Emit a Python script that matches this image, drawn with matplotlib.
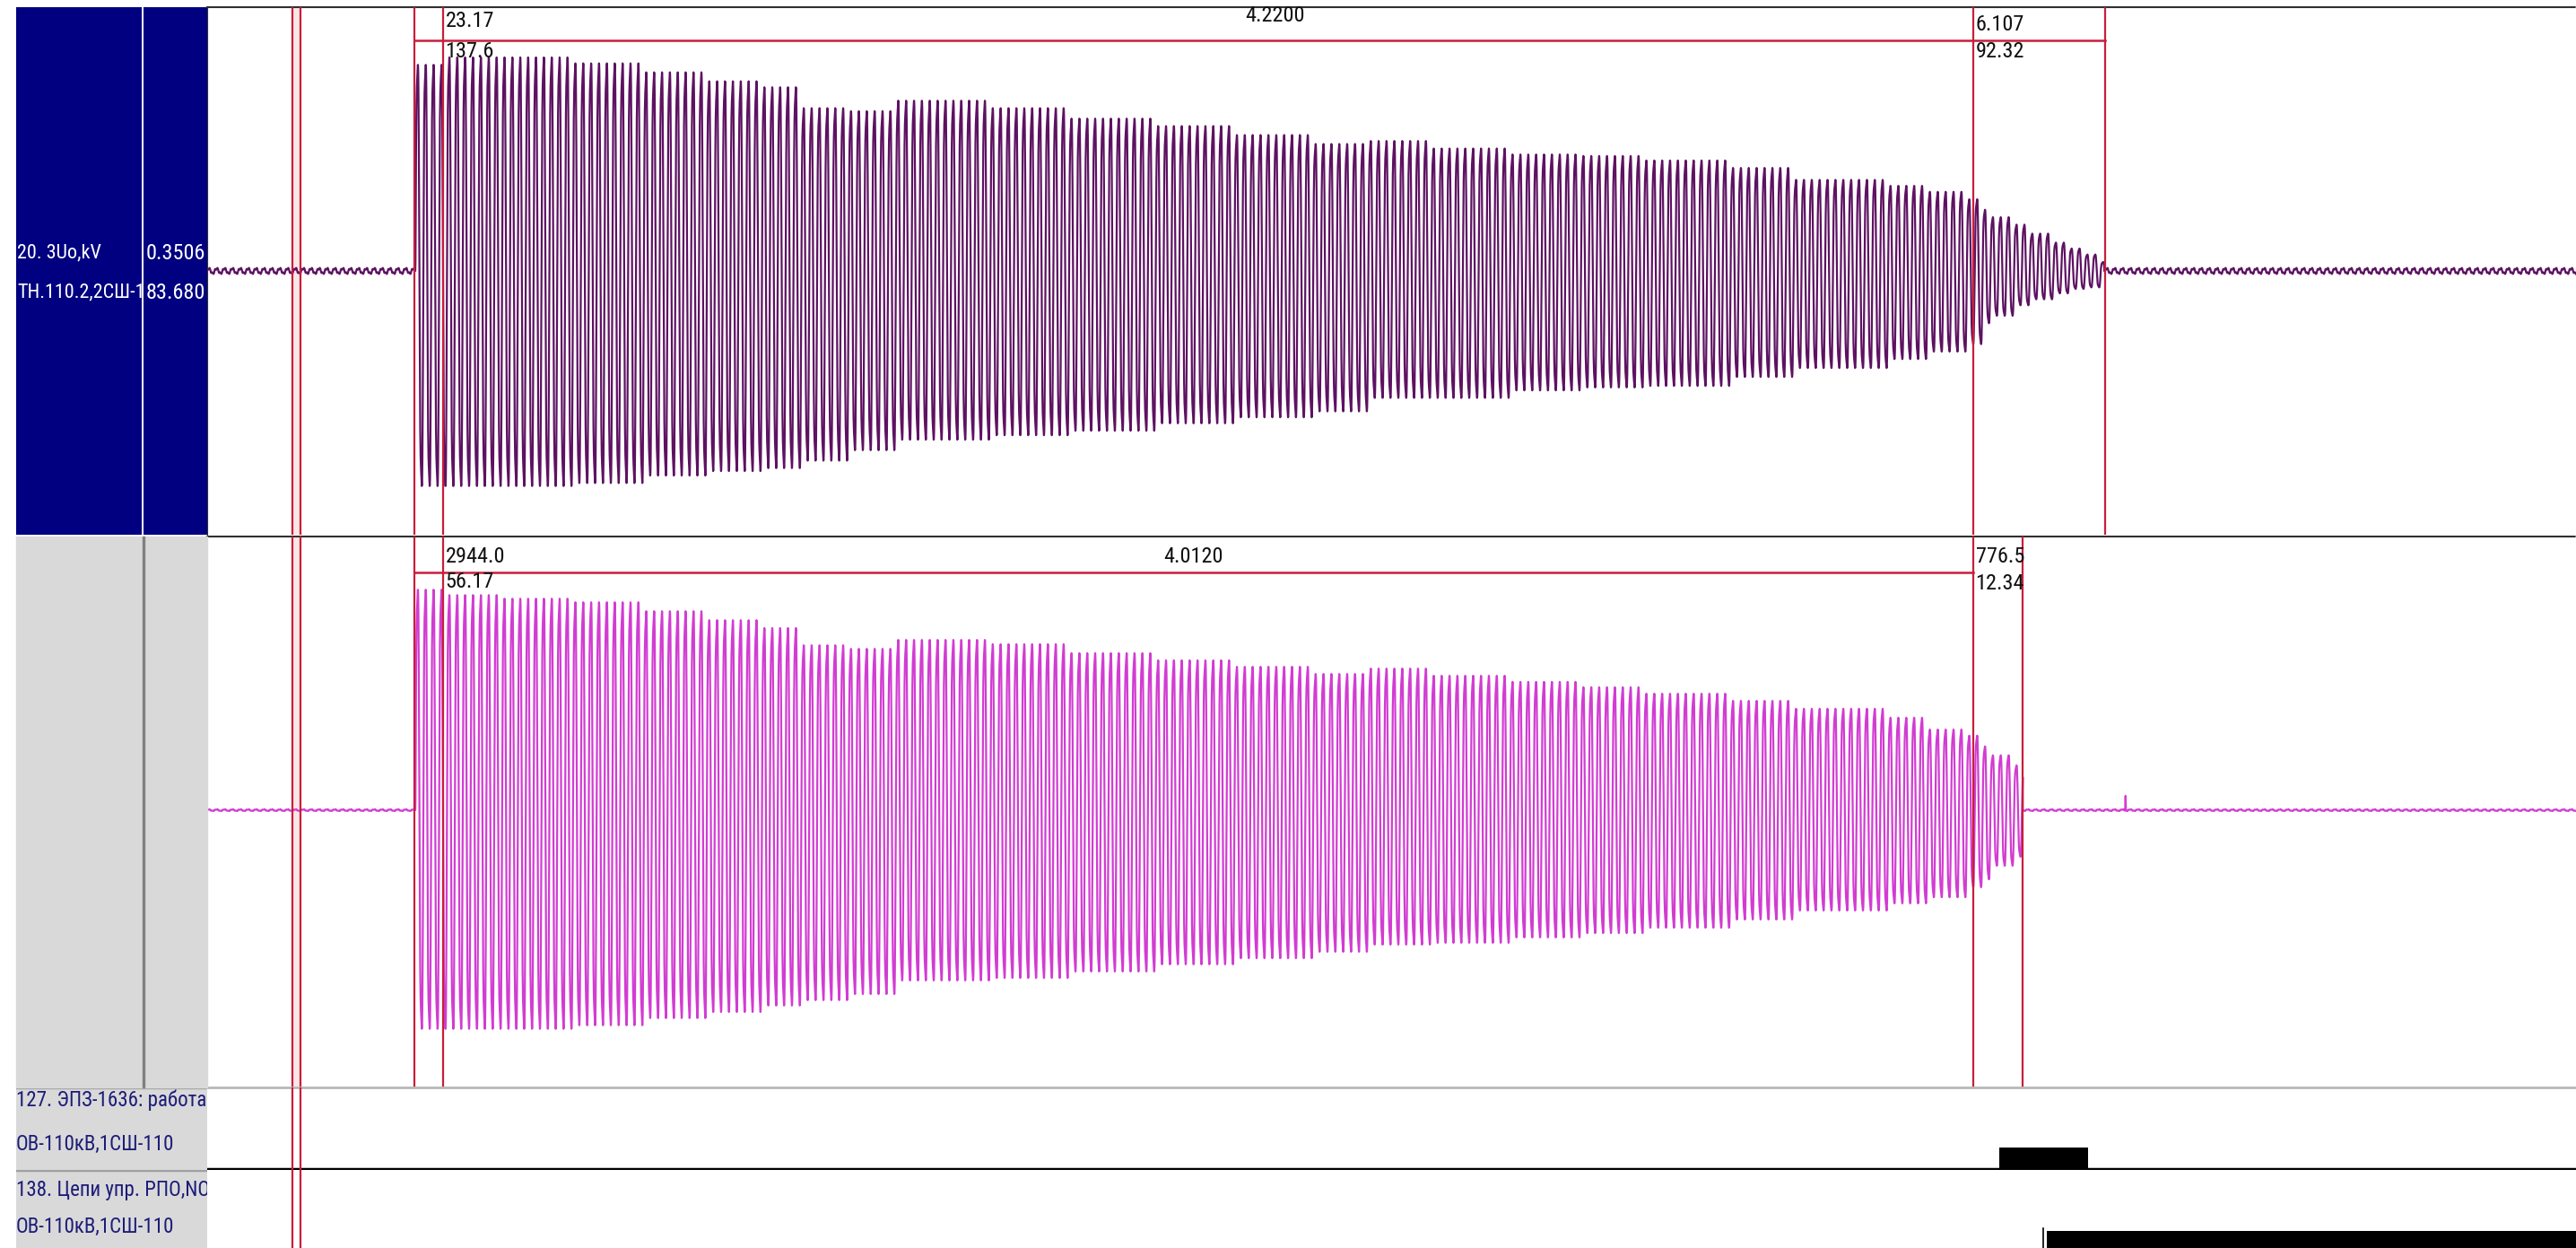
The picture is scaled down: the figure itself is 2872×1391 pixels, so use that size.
import os
import numpy as np
import matplotlib
matplotlib.use("Agg")
import matplotlib.pyplot as plt
from matplotlib import font_manager
from matplotlib.font_manager import FontProperties
from matplotlib.patches import Rectangle

W, H = 2872, 1391
DPI = 100

# time axis of the record, seconds (0 = left measuring cursor)
T_MIN, T_MAX = -0.599, 5.417
F_HZ = 50.0

# cursors, s
CUR_PAIR = [-0.383, -0.362]
CUR_FAULT = -0.073
CUR_LEFT = 0.0
CUR_MID = 3.886
CUR_U_END = 4.220
CUR_I_END = 4.012

# envelope of the fault: segment start times, s
SEG_T = [-0.07, 0.00, 0.15, 0.33, 0.50, 0.65, 0.80, 0.90, 1.02, 1.14,
         1.38, 1.59, 1.80, 2.00, 2.21, 2.34, 2.51, 2.71, 2.88, 3.05,
         3.26, 3.43, 3.66, 3.77, 3.86, 3.90, 3.93, 3.98, 4.02, 4.07,
         4.11, 4.16, 4.19]

# 20. 3Uo, kV - positive / negative peaks per segment
U_TOP = [138, 143, 143, 139, 133, 127, 123, 109, 107, 114,
         109, 102, 97, 91, 85, 87, 82, 78, 77, 74,
         69, 61, 57, 53, 48, 41, 36, 31, 25, 19,
         15, 11, 6]
U_BOT = [-144, -144, -144, -142, -137, -134, -132, -127, -120, -113,
         -110, -107, -102, -98, -94, -85, -85, -80, -78, -77,
         -71, -65, -59, -54, -49, -35, -30, -23, -19, -15,
         -12, -11, -5]
U_RIPPLE = 2.4

# 42. 3Io, A - positive / negative peaks per segment
I_TOP = [61.5, 60.0, 59.0, 58.0, 55.5, 53.0, 50.8, 46.0, 45.0, 47.5,
         46.3, 43.8, 41.8, 40.0, 38.0, 39.5, 37.5, 35.8, 34.3, 32.5,
         30.5, 28.3, 25.8, 22.5, 20.8, 17.8, 15.3, 12.5]
I_BOT = [-61.0, -61.0, -61.0, -60.0, -58.0, -56.3, -54.5, -53.0, -51.3, -47.5,
         -46.8, -45.0, -43.0, -41.3, -39.5, -37.5, -37.0, -35.5, -34.3, -32.8,
         -30.5, -28.0, -26.0, -24.3, -21.5, -19.3, -15.5, -13.0]
I_RIPPLE = 0.3
I_SPIKE_T, I_SPIKE_A = 4.273, 4.0

# discrete channels: (on, off), s
DIG127_ON = [(3.952, 4.178)]
DIG138_ON = [(4.073, T_MAX)]

# cursor readings
U_LEFT_VALS = ["23.17", "137.6"]
U_RIGHT_VALS = ["6.107", "92.32"]
U_DELTA = "4.2200"
I_LEFT_VALS = ["2944.0", "56.17"]
I_RIGHT_VALS = ["776.5", "12.34"]
I_DELTA = "4.0120"

U_NAME = ["20. 3Uo,kV", "TH.110.2,2СШ-1"]
U_SCALE = ["0.3506", "83.680"]
I_NAME = ["42. 3Io,A", "OMB_110,1СШ-1"]
I_SCALE = ["3.463", "123.20"]
D127_NAME = ["127. ЭПЗ-1636: работа", "ОВ-110кВ,1СШ-110"]
D138_NAME = ["138. Цепи упр. РПО,NO", "ОВ-110кВ,1СШ-110"]

NAVY = "#000080"
GRAY = "#d9d9d9"
RED = "#c81e3c"
U_COLOR = "#5e1262"
I_COLOR = "#d23cd2"
TXT_NAVY = "#1c1c78"


def pick_font():
    # narrow face like the recorder software uses; size tuned per face
    prefs = [("liberationsansnarrow-regular", 17.5),
             ("robotocondensed-regular", 17.5),
             ("dejavusanscondensed.ttf", 15),
             ("opensans_condensed-regular", 16)]
    files = [f.fname for f in font_manager.fontManager.ttflist]
    for key, size in prefs:
        for fn in files:
            if os.path.basename(fn).lower().startswith(key):
                return FontProperties(fname=fn), size
    return FontProperties(family="DejaVu Sans"), 13


FONT, FS = pick_font()
FS_DIG = FS * 0.94
FS_NAME = FS * 0.91


def tfont(size=None):
    fp = FONT.copy()
    fp.set_size(size or FS)
    return fp


def box(x0, y0, x1, y1):
    return [x0 / W, 1 - y1 / H, (x1 - x0) / W, (y1 - y0) / H]


def wave_shape(phase):
    return np.sin(phase) + 0.12 * np.sin(3 * phase + 0.4)


def ripple(t, amp):
    ph = 2 * np.pi * F_HZ * t
    return amp * (0.7 * np.sin(ph) + 0.3 * np.sin(3 * ph + 0.8))


def fault_wave(seg_t, top, bot, t_end, n=40):
    period = 1.0 / F_HZ
    grid = wave_shape(np.linspace(0, 2 * np.pi, 500))
    wmax, wmin = grid.max(), grid.min()
    phase = np.linspace(0, 2 * np.pi, n, endpoint=False)
    w = wave_shape(phase)
    t0 = seg_t[0]
    n_cyc = int(np.ceil((t_end - t0) / period))
    ts, ys = [], []
    for k in range(n_cyc):
        tk = t0 + k * period
        i = min(np.searchsorted(seg_t, tk, side="right") - 1, len(top) - 1)
        y = np.where(w >= 0, w / wmax * top[i], w / (-wmin) * (-bot[i]))
        t = tk + phase / (2 * np.pi) * period
        keep = t <= t_end
        ts.append(t[keep])
        ys.append(y[keep])
    return np.concatenate(ts), np.concatenate(ys)


def quiet(t0, t1, amp):
    t = np.arange(t0, t1, 1.0 / (F_HZ * 40))
    return t, ripple(t, amp)


fig = plt.figure(figsize=(W / DPI, H / DPI), dpi=DPI)
fig.patch.set_facecolor("white")


def label_axes(x0, y0, x1, y1, color):
    ax = fig.add_axes(box(x0, y0, x1, y1))
    ax.set_facecolor(color)
    ax.set_xticks([])
    ax.set_yticks([])
    for s in ax.spines.values():
        s.set_visible(False)
    ax.set_xlim(0, 1)
    ax.set_ylim(0, 1)
    return ax


def put_lines(ax, lines, ys, color, x=0.01, size=None):
    for txt, y in zip(lines, ys):
        ax.text(x, y, txt, color=color, fontproperties=tfont(size),
                va="center", ha="left", clip_on=True, transform=ax.transAxes)


# ---- left captions
a = label_axes(18, 8, 158, 596, NAVY)
put_lines(a, U_NAME, [0.534, 0.459], "white", size=FS_NAME)
a = label_axes(160, 8, 231, 596, NAVY)
put_lines(a, U_SCALE, [0.534, 0.459], "white", x=0.04)

fig.patches.append(Rectangle((18 / W, 1 - 1212 / H), 213 / W, 614 / H,
                             transform=fig.transFigure, color=GRAY, zorder=0))
a = label_axes(18, 598, 159, 1212, GRAY)
put_lines(a, I_NAME, [0.529, 0.462], I_COLOR, size=FS_NAME)
a = label_axes(161, 598, 231, 1212, GRAY)
put_lines(a, I_SCALE, [0.529, 0.462], TXT_NAVY, x=0.04)
fig.patches.append(Rectangle((159 / W, 1 - 1212 / H), 2 / W, 614 / H,
                             transform=fig.transFigure, color="#808080", zorder=3))

a = label_axes(18, 1212, 231, 1304, GRAY)
put_lines(a, D127_NAME, [0.84, 0.31], TXT_NAVY, x=0.0, size=FS_DIG)
a.axhline(1.0, color="#a0a0a0", lw=2.5)
a = label_axes(18, 1304, 231, 1391, GRAY)
put_lines(a, D138_NAME, [0.74, 0.27], TXT_NAVY, x=0.0, size=FS_DIG)
a.axhline(1.0, color="#a0a0a0", lw=2.5)


def plot_axes(y0, y1):
    ax = fig.add_axes(box(231, y0, W, y1))
    ax.set_xlim(T_MIN, T_MAX)
    ax.set_xticks([])
    ax.set_yticks([])
    for s in ax.spines.values():
        s.set_visible(False)
    return ax


ax_u = plot_axes(8, 596)
ax_i = plot_axes(598, 1212)
ax_d1 = plot_axes(1212, 1304)
ax_d2 = plot_axes(1304, 1391)

ax_u.set_ylim(-176.4, 176.4)
ax_i.set_ylim(-77.25, 76.25)
ax_d1.set_ylim(-0.042, 3.79)
ax_d2.set_ylim(0.208, 3.83)

for ax in (ax_u, ax_i):
    ax.spines["top"].set_visible(True)
    ax.spines["top"].set_linestyle((0, (1, 1)))
    ax.spines["top"].set_color("#303030")
    ax.spines["top"].set_linewidth(1.5)
ax_u.spines["left"].set_visible(True)
ax_u.spines["left"].set_linestyle((0, (1, 1)))
ax_u.spines["left"].set_color("#303030")
ax_d1.spines["top"].set_visible(True)
ax_d1.spines["top"].set_color("#b8b8b8")
ax_d1.spines["top"].set_linewidth(2)

# ---- 3Uo
t_pre, y_pre = quiet(T_MIN, SEG_T[0], U_RIPPLE)
t_f, y_f = fault_wave(SEG_T, U_TOP, U_BOT, CUR_U_END)
t_post, y_post = quiet(CUR_U_END, T_MAX, U_RIPPLE)
ax_u.plot(np.concatenate([t_pre, t_f, t_post]),
          np.concatenate([y_pre, y_f, y_post]),
          color=U_COLOR, lw=1.6, zorder=3)

# ---- 3Io
i_seg = SEG_T[:len(I_TOP)]
t_pre, y_pre = quiet(T_MIN, i_seg[0], I_RIPPLE)
t_f, y_f = fault_wave(i_seg, I_TOP, I_BOT, CUR_I_END)
t_p1, y_p1 = quiet(CUR_I_END, I_SPIKE_T - 0.002, I_RIPPLE)
t_p2, y_p2 = quiet(I_SPIKE_T + 0.002, T_MAX, I_RIPPLE)
t_sp = np.array([I_SPIKE_T - 0.001, I_SPIKE_T, I_SPIKE_T + 0.001])
y_sp = np.array([0.0, I_SPIKE_A, 0.0])
ax_i.plot(np.concatenate([t_pre, t_f, t_p1, t_sp, t_p2]),
          np.concatenate([y_pre, y_f, y_p1, y_sp, y_p2]),
          color=I_COLOR, lw=1.6, zorder=3)

# ---- discrete channels
ax_d1.plot([T_MIN, T_MAX], [0, 0], color="black", lw=2.5, zorder=3)
for on, off in DIG127_ON:
    ax_d1.fill_between([on, off], 0, 1, color="black", lw=0, zorder=3)
ax_d2.plot([T_MIN, T_MAX], [0, 0], color="black", lw=2.5, zorder=3)
for on, off in DIG138_ON:
    ax_d2.fill_between([on, off], 0, 1, color="black", lw=0, zorder=3)
    ax_d2.axvline(on - 0.008, ymax=0.25, color="black", lw=1.2)

# ---- cursors
for ax in (ax_u, ax_i):
    ax.axvspan(CUR_PAIR[0], CUR_PAIR[1], color="#fbe6e6", lw=0, zorder=1)
for ax in (ax_u, ax_i, ax_d1, ax_d2):
    for c in CUR_PAIR:
        ax.axvline(c, color=RED, lw=1.6, zorder=5)
for c in (CUR_FAULT, CUR_LEFT, CUR_MID, CUR_U_END):
    ax_u.axvline(c, color=RED, lw=1.6, zorder=5)
for c in (CUR_FAULT, CUR_LEFT, CUR_MID, CUR_I_END):
    ax_i.axvline(c, color=RED, lw=1.6, zorder=5)

tr_u = ax_u.get_xaxis_transform()
tr_i = ax_i.get_xaxis_transform()
ax_u.plot([CUR_FAULT, CUR_U_END], [0.937, 0.937], color=RED, lw=1.8,
          transform=tr_u, zorder=5)
ax_i.plot([CUR_FAULT, CUR_MID], [0.935, 0.935], color=RED, lw=1.8,
          transform=tr_i, zorder=5)

for ax, tr, vals, x, ys in (
        (ax_u, tr_u, U_LEFT_VALS, CUR_LEFT, [0.974, 0.915]),
        (ax_u, tr_u, U_RIGHT_VALS, CUR_MID, [0.966, 0.915]),
        (ax_i, tr_i, I_LEFT_VALS, CUR_LEFT, [0.964, 0.917]),
        (ax_i, tr_i, I_RIGHT_VALS, CUR_MID, [0.964, 0.915])):
    for v, y in zip(vals, ys):
        ax.text(x + 0.006, y, v, transform=tr, fontproperties=tfont(),
                color="#101010", ha="left", va="center", zorder=6)

ax_u.text((CUR_FAULT + CUR_U_END) / 2 + 0.04, 0.984, U_DELTA, transform=tr_u,
          fontproperties=tfont(), color="#101010", ha="center", va="center",
          zorder=6)
ax_i.text((CUR_FAULT + CUR_MID) / 2, 0.963, I_DELTA, transform=tr_i,
          fontproperties=tfont(), color="#101010", ha="center", va="center",
          zorder=6)

fig.savefig("out.png", dpi=DPI, facecolor="white")
